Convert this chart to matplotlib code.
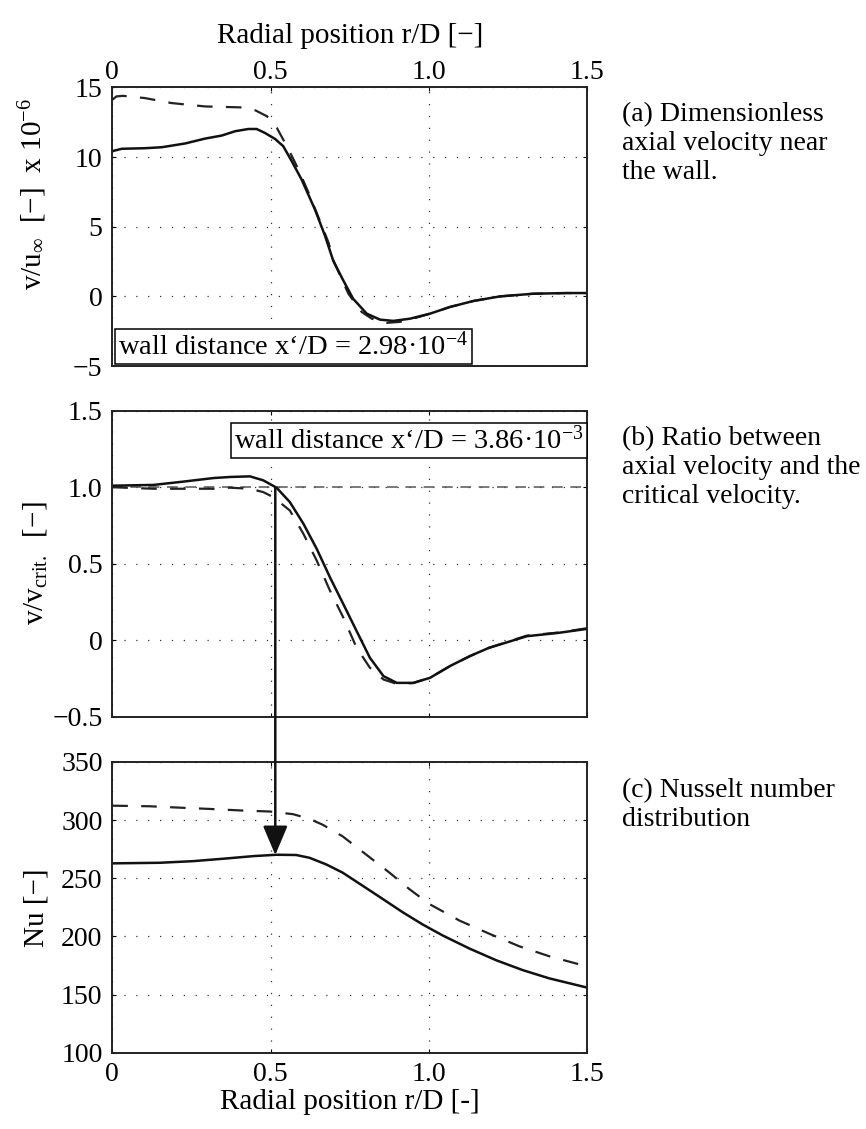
import matplotlib.pyplot as plt
from matplotlib.patches import ConnectionPatch

plt.rcParams['font.family'] = 'Liberation Serif'
plt.rcParams['mathtext.fontset'] = 'custom'
plt.rcParams['mathtext.rm'] = 'Liberation Serif'
plt.rcParams['mathtext.it'] = 'Liberation Serif:italic'

# (a) dimensionless axial velocity near the wall (x 10^-6)
r_a_solid = [0.0, 0.03, 0.103, 0.156, 0.23, 0.293, 0.346, 0.388, 0.43, 0.456, 0.482, 0.514, 0.54,
             0.567, 0.598, 0.64, 0.672, 0.698, 0.73, 0.761, 0.804, 0.846, 0.888, 0.941, 1.004,
             1.067, 1.141, 1.225, 1.33, 1.436, 1.5]
v_a_solid = [10.43, 10.6, 10.64, 10.71, 10.98, 11.33, 11.55, 11.86, 12.02, 12.02, 11.74, 11.31,
             10.79, 9.71, 8.4, 6.26, 4.36, 2.57, 1.14, -0.17, -1.24, -1.67, -1.76, -1.6, -1.24,
             -0.76, -0.33, 0.0, 0.19, 0.24, 0.24]
r_a_dash = [0.0, 0.013, 0.034, 0.103, 0.188, 0.293, 0.41, 0.452, 0.489, 0.52, 0.557, 0.588, 0.62,
            0.683, 0.70, 0.746, 0.788, 0.82, 0.867, 0.909, 0.962, 1.004, 1.067, 1.141, 1.225,
            1.33, 1.436, 1.5]
v_a_dash = [14.12, 14.36, 14.4, 14.24, 13.88, 13.64, 13.57, 13.36, 12.93, 12.1, 10.55, 9.12, 7.45,
            3.88, 2.5, 0.19, -1.12, -1.6, -1.9, -1.83, -1.52, -1.24, -0.76, -0.33, 0.0, 0.19,
            0.24, 0.24]

# (b) ratio between axial velocity and critical velocity
r_b_solid = [0.0, 0.13, 0.226, 0.32, 0.372, 0.435, 0.477, 0.519, 0.561, 0.604, 0.646, 0.688, 0.73,
             0.772, 0.814, 0.857, 0.899, 0.951, 1.004, 1.067, 1.13, 1.19, 1.31, 1.41, 1.5]
v_b_solid = [1.01, 1.015, 1.037, 1.06, 1.067, 1.071, 1.045, 0.997, 0.903, 0.761, 0.597, 0.41,
             0.236, 0.06, -0.115, -0.235, -0.279, -0.279, -0.246, -0.169, -0.104, -0.05, 0.026,
             0.048, 0.074]
r_b_dash = [0.0, 0.13, 0.32, 0.372, 0.435, 0.477, 0.508, 0.561, 0.604, 0.646, 0.688, 0.73, 0.772,
            0.814, 0.857, 0.899, 0.951, 1.004, 1.067, 1.13, 1.19, 1.31, 1.41, 1.5]
v_b_dash = [1.0, 0.99, 0.99, 0.997, 0.99, 0.968, 0.936, 0.848, 0.695, 0.52, 0.323, 0.148, -0.049,
            -0.18, -0.257, -0.285, -0.28, -0.245, -0.17, -0.104, -0.05, 0.03, 0.05, 0.078]

# (c) Nusselt number distribution
r_c_solid = [0.0, 0.149, 0.255, 0.36, 0.444, 0.518, 0.581, 0.623, 0.676, 0.728, 0.792, 0.855,
             0.918, 0.981, 1.044, 1.129, 1.213, 1.297, 1.381, 1.5]
nu_c_solid = [262.8, 263.3, 264.7, 267.0, 269.0, 270.2, 270.0, 267.6, 261.9, 254.8, 243.4, 232.1,
              220.7, 210.2, 200.8, 189.5, 179.5, 171.0, 163.9, 156.0]
r_c_dash = [0.0, 0.118, 0.213, 0.308, 0.413, 0.497, 0.571, 0.623, 0.665, 0.728, 0.802, 0.876,
            0.939, 1.002, 1.097, 1.192, 1.287, 1.381, 1.486]
nu_c_dash = [312.4, 311.9, 310.7, 309.6, 308.2, 307.4, 305.1, 301.1, 296.0, 286.0, 270.4, 254.8,
             240.6, 227.8, 213.6, 202.2, 191.4, 182.9, 175.2]

x_ticks = [0, 0.5, 1.0, 1.5]
x_ticklabels = ['0', '0.5', '1.0', '1.5']

fig = plt.figure(figsize=(8.66, 11.29), dpi=100)
ax1 = fig.add_axes([0.1297, 0.6758, 0.5481, 0.2467])
ax2 = fig.add_axes([0.1297, 0.3652, 0.5481, 0.2710])
ax3 = fig.add_axes([0.1297, 0.0676, 0.5481, 0.2575])

dash = (0, (7, 6))
for ax in (ax1, ax2, ax3):
    ax.set_xlim(0, 1.5)
    ax.set_xticks(x_ticks)
    ax.grid(True, linestyle=(0, (1, 8.5)), color='#333333', linewidth=0.9)
    ax.tick_params(direction='in', length=3, labelsize=20, top=True, right=True)
    ax.tick_params(axis='y', pad=7)
    ax.tick_params(axis='x', pad=7)
    for s in ax.spines.values():
        s.set_linewidth(1.4)
        s.set_color('#222222')

box = dict(boxstyle='square,pad=0.12', facecolor='white', edgecolor='black', linewidth=1.1)

ax1.plot(r_a_dash, v_a_dash, color='#222222', linewidth=1.6, linestyle=dash)
ax1.plot(r_a_solid, v_a_solid, color='#111111', linewidth=1.8)
ax1.set_ylim(-5, 15)
ax1.set_yticks([-5, 0, 5, 10, 15])
ax1.set_yticklabels(['\u22125', '0', '5', '10', '15'])
ax1.xaxis.tick_top()
ax1.xaxis.set_label_position('top')
ax1.tick_params(axis='x', pad=2)
ax1.set_xticklabels(x_ticklabels)
ax1.set_xlabel('Radial position r/D [\u2212]', fontsize=21, labelpad=12)
ax1.set_ylabel('v/u$_{\\infty}$  [\u2212]  x 10$^{\\mathregular{\u22126}}$', fontsize=21)
ax1.yaxis.set_label_coords(-0.133, 0.618)
ax1.text(0.012, 0.018, 'wall distance x\u2018/D = 2.98\u00b710$^{\\mathregular{-4}}$',
         transform=ax1.transAxes, fontsize=20.5, va='bottom', ha='left', bbox=box)

ax2.axhline(1.0, color='#555555', linewidth=1.1, linestyle=(0, (7, 5)))
ax2.plot(r_b_dash, v_b_dash, color='#222222', linewidth=1.6, linestyle=dash)
ax2.plot(r_b_solid, v_b_solid, color='#111111', linewidth=1.8)
ax2.set_ylim(-0.5, 1.5)
ax2.set_yticks([-0.5, 0, 0.5, 1.0, 1.5])
ax2.set_yticklabels(['\u22120.5', '0', '0.5', '1.0', '1.5'])
ax2.set_xticklabels([])
ax2.set_ylabel('v/v$_{\\mathregular{crit.}}$  [\u2212]', fontsize=21)
ax2.yaxis.set_label_coords(-0.133, 0.5)
ax2.text(0.993, 0.95, 'wall distance x\u2018/D = 3.86\u00b710$^{\\mathregular{-3}}$',
         transform=ax2.transAxes, fontsize=20.5, va='top', ha='right', bbox=box)

ax3.plot(r_c_dash, nu_c_dash, color='#222222', linewidth=1.6, linestyle=dash)
ax3.plot(r_c_solid, nu_c_solid, color='#111111', linewidth=1.8)
ax3.set_ylim(100, 350)
ax3.set_yticks([100, 150, 200, 250, 300, 350])
ax3.set_xticklabels(x_ticklabels)
ax3.set_xlabel('Radial position r/D [-]', fontsize=21, labelpad=1)
ax3.set_ylabel('Nu [\u2212]', fontsize=21)
ax3.yaxis.set_label_coords(-0.133, 0.5)

arrow = ConnectionPatch(xyA=(0.515, 1.0), coordsA=ax2.transData,
                        xyB=(0.515, 270), coordsB=ax3.transData,
                        arrowstyle='-|>,head_length=0.9,head_width=0.38', mutation_scale=20,
                        color='#111111', linewidth=1.8, shrinkA=0, shrinkB=0)
fig.add_artist(arrow)

fig.text(0.718, 0.910, '(a) Dimensionless\naxial velocity near\nthe wall.', fontsize=20,
         va='top', ha='left', linespacing=1.22)
fig.text(0.718, 0.623, '(b) Ratio between\naxial velocity and the\ncritical velocity.', fontsize=20,
         va='top', ha='left', linespacing=1.22)
fig.text(0.718, 0.311, '(c) Nusselt number\ndistribution', fontsize=20,
         va='top', ha='left', linespacing=1.22)

fig.savefig('out.png', dpi=100)
